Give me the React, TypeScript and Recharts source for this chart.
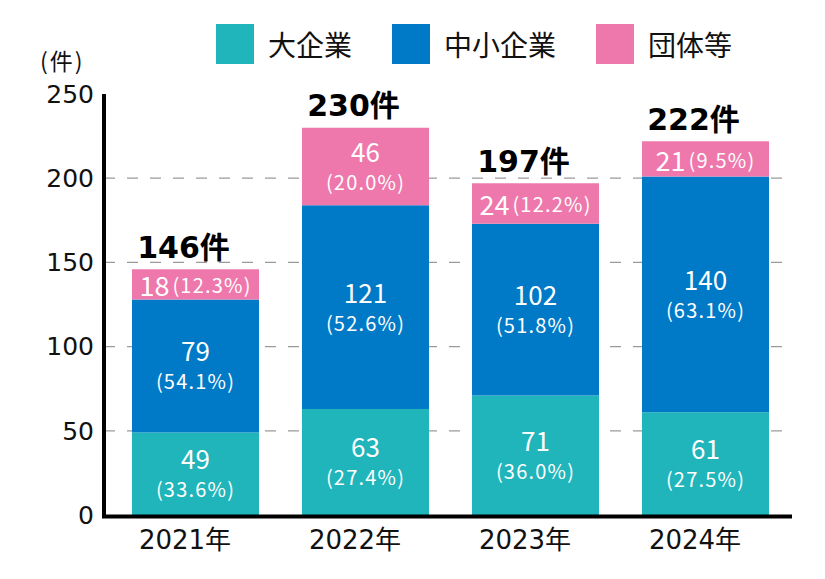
import { BarChart, Bar, XAxis, YAxis, CartesianGrid, LabelList } from "recharts";

const years = ["2021年", "2022年", "2023年", "2024年"];
const largeCompanies = [49, 63, 71, 61];
const smallCompanies = [79, 121, 102, 140];
const organizations = [18, 46, 24, 21];
const yTicks = [0, 50, 100, 150, 200, 250];
const gridValues = [50, 100, 150, 200];

const seriesKeys = ["large", "small", "org"];
const seriesNames = ["大企業", "中小企業", "団体等"];
const seriesColors = ["#20B5BA", "#007AC7", "#EE78AB"];

const data = years.map((year, i) => ({
  year,
  large: largeCompanies[i],
  small: smallCompanies[i],
  org: organizations[i],
  total: largeCompanies[i] + smallCompanies[i] + organizations[i],
}));

const JP = "'Noto Sans CJK JP', sans-serif";
const NUM = "'DejaVu Sans', 'Noto Sans CJK JP', sans-serif";

function SegmentLabel(props: any) {
  const { x, y, width, height, value, index } = props;
  const total = data[index].total;
  const pct = ((value / total) * 100).toFixed(1);
  const cx = x + width / 2;
  const cy = y + height / 2;

  // tall segments: value and share on two lines
  if (height > 60) {
    return (
      <g fontFamily={JP} fill="#fff">
        <text x={cx} y={cy - 16} textAnchor="middle" dominantBaseline="central" fontSize={26}>
          {value}
        </text>
        <text
          x={cx}
          y={cy + 15}
          textAnchor="middle"
          dominantBaseline="central"
          fontSize={20}
          letterSpacing={1.2}
        >
          ({pct}%)
        </text>
      </g>
    );
  }

  return (
    <text
      x={cx}
      y={cy}
      textAnchor="middle"
      dominantBaseline="central"
      fontFamily={JP}
      fill="#fff"
    >
      <tspan fontSize={27}>{value}</tspan>
      <tspan fontSize={20} dx={3} letterSpacing={1.2}>
        ({pct}%)
      </tspan>
    </text>
  );
}

function TotalLabel(props: any) {
  const { x, y, width, index } = props;
  return (
    <text
      x={x + width / 2 - 12}
      y={y - 22}
      textAnchor="middle"
      dominantBaseline="central"
      fontFamily={NUM}
      fontWeight="bold"
      fontSize={30}
      fill="#000"
    >
      {data[index].total}件
    </text>
  );
}

export default function App() {
  return (
    <div
      style={{
        position: "absolute",
        left: 0,
        top: 0,
        width: 825,
        height: 579,
        background: "#fff",
      }}
    >
      {/* legend */}
      <div
        style={{
          position: "absolute",
          left: 216,
          top: 24,
          display: "flex",
          alignItems: "center",
          gap: 40,
          fontFamily: JP,
          fontSize: 28,
          color: "#111",
        }}
      >
        {seriesNames.map((name, i) => (
          <div key={name} style={{ display: "flex", alignItems: "center" }}>
            <span
              style={{
                display: "inline-block",
                width: 38,
                height: 40,
                background: seriesColors[i],
                marginRight: 14,
              }}
            />
            <span style={{ lineHeight: "40px" }}>{name}</span>
          </div>
        ))}
      </div>

      <div
        style={{
          position: "absolute",
          left: 40,
          top: 44,
          fontFamily: JP,
          fontSize: 23,
          lineHeight: "32px",
          letterSpacing: 2,
          color: "#111",
        }}
      >
        (件)
      </div>

      <BarChart
        width={825}
        height={579}
        data={data}
        margin={{ top: 94, right: 35, bottom: 24, left: 0 }}
      >
        <CartesianGrid
          vertical={false}
          horizontalValues={gridValues}
          stroke="#9a9a9a"
          strokeWidth={1.2}
          strokeDasharray="11 12"
        />

        <XAxis
          dataKey="year"
          height={40}
          padding={{ left: 6, right: 0 }}
          tickLine={false}
          tickSize={0}
          tickMargin={16}
          axisLine={{ stroke: "#000", strokeWidth: 4, transform: "translate(0,1.5)", strokeLinecap: "square" }}
          tick={{ fontSize: 26, fill: "#111", fontFamily: NUM, dx: -10 }}
        />

        <YAxis
          width={104}
          domain={[0, 250]}
          ticks={yTicks}
          interval={0}
          tickLine={false}
          tickSize={0}
          tickMargin={10}
          axisLine={{ stroke: "#000", strokeWidth: 4 }}
          tick={{ fontSize: 25, fill: "#111", fontFamily: NUM }}
        />

        {seriesKeys.map((key, i) => (
          <Bar
            key={key}
            dataKey={key}
            name={seriesNames[i]}
            stackId="a"
            fill={seriesColors[i]}
            barSize={127}
            isAnimationActive={false}
          >
            <LabelList dataKey={key} content={<SegmentLabel />} />
            {i === seriesKeys.length - 1 && (
              <LabelList dataKey="total" content={<TotalLabel />} />
            )}
          </Bar>
        ))}
      </BarChart>
    </div>
  );
}
